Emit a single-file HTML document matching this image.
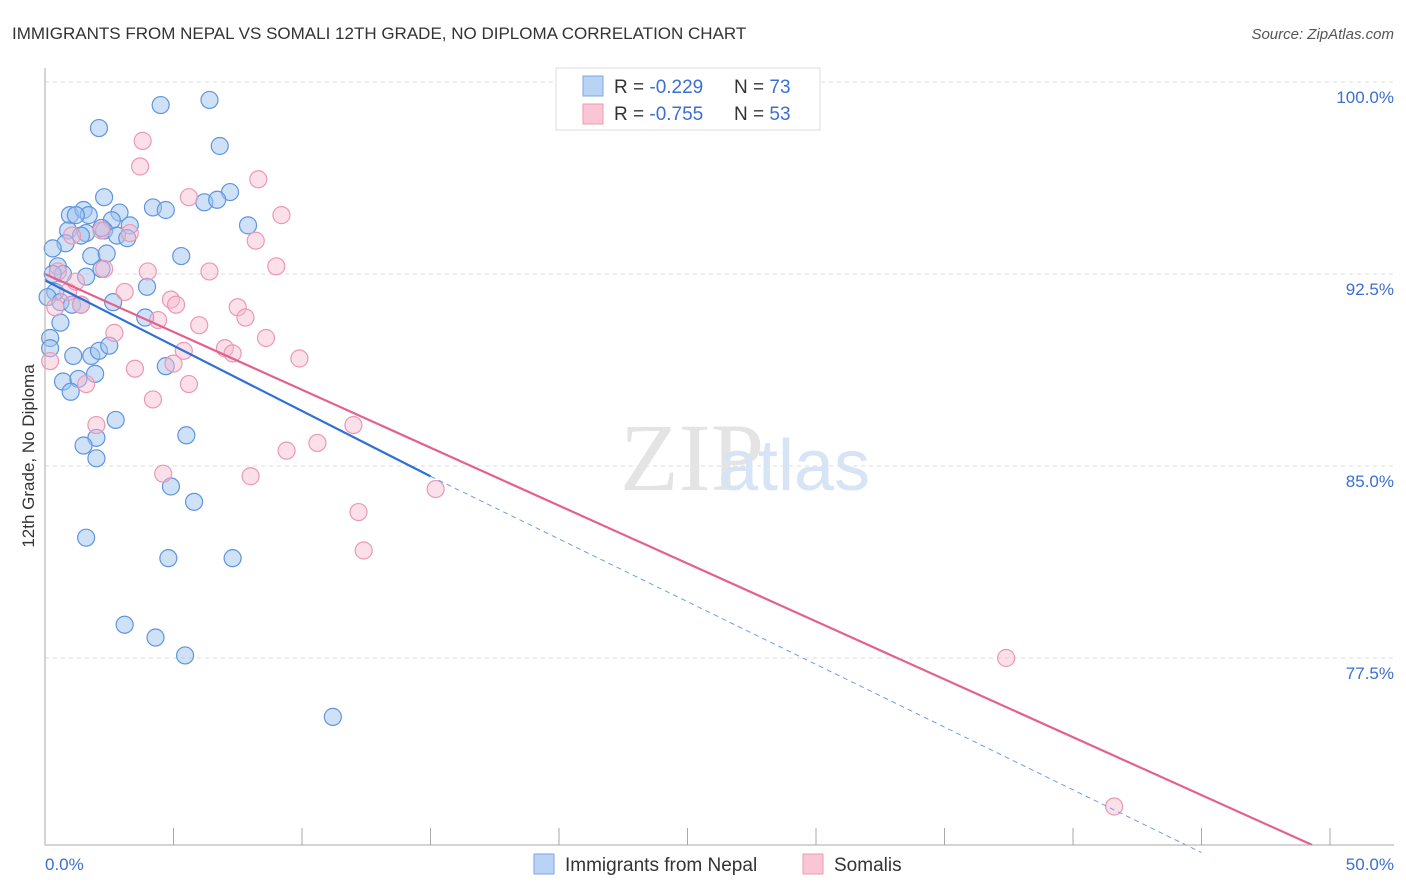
<!DOCTYPE html>
<html><head><meta charset="utf-8"><style>
body{margin:0;background:#fff;font-family:"Liberation Sans",sans-serif;}
svg{display:block}
</style></head><body>
<svg id="chart" width="1406" height="892" xmlns="http://www.w3.org/2000/svg">
<text x="12" y="39" font-size="17" fill="#333">IMMIGRANTS FROM NEPAL VS SOMALI 12TH GRADE, NO DIPLOMA CORRELATION CHART</text>
<text x="1394" y="39" font-size="15" fill="#555" font-style="italic" text-anchor="end">Source: ZipAtlas.com</text>
<g id="grid"></g>
<text x="620" y="490" font-size="96" fill="#e4e4e4" font-family="Liberation Serif">ZIP</text>
<text x="718" y="490" font-size="72" fill="#d6e4f5">atlas</text>
<g id="pts"></g>
<g id="trend"></g>
<line x1="45" y1="68" x2="45" y2="845" stroke="#aaa"/>
<line x1="45" y1="845" x2="1394" y2="845" stroke="#aaa"/>
<text x="34" y="456" font-size="17" fill="#333" transform="rotate(-90 34 456)" text-anchor="middle">12th Grade, No Diploma</text>
<text x="45" y="870" font-size="17" fill="#3b6fd1">0.0%</text>
<text x="1394" y="870" font-size="17" fill="#3b6fd1" text-anchor="end">50.0%</text>
<g>
<rect x="556" y="68" width="264" height="62" fill="#fff" stroke="#ddd"/>
<rect x="583" y="76" width="20" height="20" fill="#b8d3f5" stroke="#7ea7e6"/>
<text x="614" y="93" font-size="19" fill="#333">R = <tspan fill="#3b6fd1">-0.229</tspan><tspan x="734">N = </tspan><tspan fill="#3b6fd1">73</tspan></text>
<rect x="583" y="104" width="20" height="20" fill="#fac6d6" stroke="#ef9ab4"/>
<text x="614" y="120" font-size="19" fill="#333">R = <tspan fill="#3b6fd1">-0.755</tspan><tspan x="734">N = </tspan><tspan fill="#3b6fd1">53</tspan></text>
</g>
<g>
<rect x="534" y="854" width="20" height="20" fill="#b8d3f5" stroke="#7ea7e6"/>
<text x="565" y="871" font-size="19" fill="#333">Immigrants from Nepal</text>
<rect x="803" y="854" width="20" height="20" fill="#fac6d6" stroke="#ef9ab4"/>
<text x="834" y="871" font-size="19" fill="#333">Somalis</text>
</g>
</svg>
<script>
const yTicks=[100,92.5,85,77.5];
const yTickLabels=["100.0%","92.5%","85.0%","77.5%"];
const xTicks=[0,5,10,15,20,25,30,35,40,45,50];
const nepalX=[4.5,6.4,2.1,6.8,2.3,7.2,4.2,4.7,6.2,6.7,0.97,1.5,1.7,1.2,2.9,2.6,3.3,7.9,0.9,1.6,2.3,0.8,0.3,1.4,2.2,2.8,3.2,1.8,2.4,5.3,0.5,0.7,2.2,0.3,1.6,3.97,0.4,0.1,0.6,1.05,1.4,2.65,3.9,0.6,0.2,0.2,1.1,1.8,2.1,2.5,4.7,0.7,1.3,1.95,1.0,2.75,2.0,5.5,1.5,2.0,4.9,5.8,1.6,4.8,7.3,3.1,4.3,5.45,11.2];
const nepalY=[99.1,99.3,98.2,97.5,95.5,95.7,95.1,95.0,95.3,95.4,94.8,95.0,94.8,94.8,94.9,94.6,94.4,94.4,94.2,94.1,94.2,93.7,93.5,94.0,94.3,94.0,93.9,93.2,93.3,93.2,92.8,92.5,92.7,92.5,92.4,92.0,91.8,91.6,91.4,91.3,91.3,91.4,90.8,90.6,90.0,89.6,89.3,89.3,89.5,89.7,88.9,88.3,88.4,88.6,87.9,86.8,86.1,86.2,85.8,85.3,84.2,83.6,82.2,81.4,81.4,78.8,78.3,77.6,75.2];
const somaliX=[3.8,3.7,8.3,5.6,9.2,3.3,2.2,8.2,1.05,4.0,6.4,9.0,2.3,0.5,0.9,1.4,3.1,4.9,5.1,7.5,7.8,4.4,6.0,8.6,2.7,7.0,7.3,5.4,5.0,3.5,9.9,1.6,5.6,4.2,2.0,12.0,9.4,10.6,4.6,8.0,15.2,12.2,12.4,37.4,41.6,0.2,0.4,1.2];
const somaliY=[97.7,96.7,96.2,95.5,94.8,94.1,94.2,93.8,94.0,92.6,92.6,92.8,92.7,92.6,91.8,91.3,91.8,91.5,91.3,91.2,90.8,90.7,90.5,90.0,90.2,89.6,89.4,89.5,89.0,88.8,89.2,88.2,88.2,87.6,86.6,86.6,85.6,85.9,84.7,84.6,84.1,83.2,81.7,77.5,71.7,89.1,91.2,92.2];
const blueLine=[[0,92.25],[15,84.6],[45,69.9]];
const pinkLine=[[0,92.5],[49.3,70.2]];
const NS="http://www.w3.org/2000/svg";
const sx=v=>45+v*25.7;
const sy=v=>82+(100-v)*25.6;
function mk(tag,attrs,parent){const e=document.createElementNS(NS,tag);for(const k in attrs)e.setAttribute(k,attrs[k]);parent.appendChild(e);return e;}
const grid=document.getElementById('grid');
yTicks.forEach((t,i)=>{
  const l=mk('line',{x1:45,x2:1394,y1:sy(t),y2:sy(t),stroke:'#ddd','stroke-dasharray':'4,4'},grid);
  
  
  const tx=mk('text',{x:1394,y:sy(t)+21,'font-size':17,fill:'#3b6fd1','text-anchor':'end'},grid);
  tx.textContent=yTickLabels[i];
  
  
});
xTicks.forEach(t=>{
  const l=mk('line',{x1:sx(t),x2:sx(t),y1:828,y2:845,stroke:'#aaa'},grid);
  
  
});
const pts=document.getElementById('pts');
nepalX.forEach((x,i)=>{
  const c=mk('circle',{cx:sx(x),cy:sy(nepalY[i]),r:8.5,fill:'rgba(160,196,240,0.5)',stroke:'#5f95e0','stroke-width':1.2},pts);
  
  
});
somaliX.forEach((x,i)=>{
  const c=mk('circle',{cx:sx(x),cy:sy(somaliY[i]),r:8.5,fill:'rgba(248,186,206,0.45)',stroke:'#ec98b3','stroke-width':1.2},pts);
  
  
});
const tr=document.getElementById('trend');
const b1=mk('line',{x1:sx(blueLine[0][0]),y1:sy(blueLine[0][1]),x2:sx(blueLine[1][0]),y2:sy(blueLine[1][1]),stroke:'#2f6fd6','stroke-width':2.2},tr);


const b2=mk('line',{x1:sx(blueLine[1][0]),y1:sy(blueLine[1][1]),x2:sx(blueLine[2][0]),y2:sy(blueLine[2][1]),stroke:'#6f9ee6','stroke-width':1,'stroke-dasharray':'5,4'},tr);


const p1=mk('line',{x1:sx(pinkLine[0][0]),y1:sy(pinkLine[0][1]),x2:sx(pinkLine[1][0]),y2:sy(pinkLine[1][1]),stroke:'#e3628c','stroke-width':2.2},tr);


</script>
</body></html>
